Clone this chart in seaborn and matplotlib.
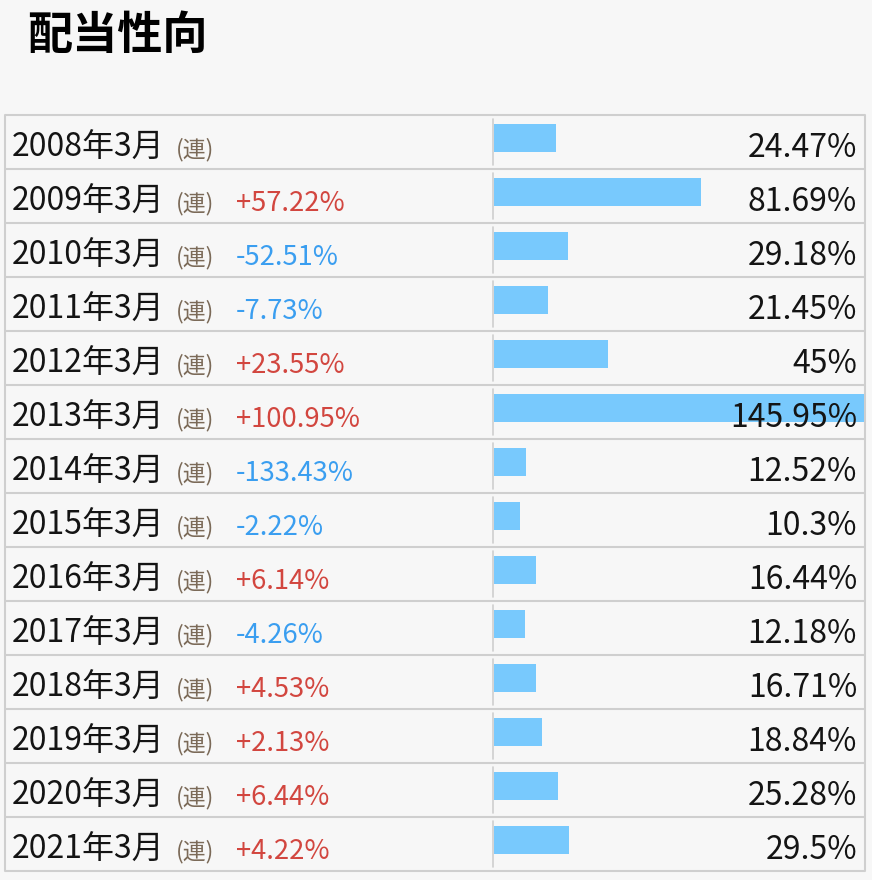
import matplotlib
matplotlib.use('Agg')
import seaborn as sns
import matplotlib.pyplot as plt
import numpy as np
import pandas as pd

# 配当性向データ
periods = ['2008年3月', '2009年3月', '2010年3月', '2011年3月', '2012年3月',
           '2013年3月', '2014年3月', '2015年3月', '2016年3月', '2017年3月',
           '2018年3月', '2019年3月', '2020年3月', '2021年3月']
payout = [24.47, 81.69, 29.18, 21.45, 45, 145.95, 12.52, 10.3,
          16.44, 12.18, 16.71, 18.84, 25.28, 29.5]
change = [None, 57.22, -52.51, -7.73, 23.55, 100.95, -133.43, -2.22,
          6.14, -4.26, 4.53, 2.13, 6.44, 4.22]
kind = '(連)'
title = '配当性向'

df = pd.DataFrame({'period': periods, 'payout': payout})

sns.set_style('white')
plt.rcParams['font.family'] = ['Noto Sans CJK JP', 'DejaVu Sans']

W, H = 872, 880
BG = '#f7f7f7'
LINE = '#cfcfcf'
BAR = '#78c9fd'
RED = '#d2463f'
BLUE = '#3a9ef0'
BROWN = '#7b6a58'
TXT = '#141414'

tab_l, tab_r, tab_t, row_h = 5, 865, 115, 54
n = len(periods)
tab_b = tab_t + row_h * n
div_x = 493

fig = plt.figure(figsize=(W / 100, H / 100), dpi=100, facecolor=BG)

# レイアウト用の軸(ピクセル座標)
ax_tab = fig.add_axes([0, 0, 1, 1])
ax_tab.set_xlim(0, W)
ax_tab.set_ylim(H, 0)
ax_tab.axis('off')
ax_tab.set_facecolor(BG)

# 棒グラフ用の軸
ax = fig.add_axes([div_x / W, 1 - tab_b / H, (tab_r - div_x) / W, (tab_b - tab_t) / H])
ax.patch.set_alpha(0)
sns.barplot(data=df, x='payout', y='period', orient='h', color=BAR,
            width=0.52, saturation=1, ax=ax)
for p in ax.patches:
    p.set_y(p.get_y() - 0.075)
    p.set_edgecolor('none')
px_per = (tab_r - div_x - 2) / max(payout)
pad = 1 / px_per
ax.set_xlim(-pad, max(payout) + pad)
ax.set_ylim(n - 0.5, -0.5)
ax.axis('off')

# 枠線
for i in range(n + 1):
    y = tab_t + row_h * i
    ax_tab.plot([tab_l, tab_r], [y, y], color=LINE, lw=1.5, solid_capstyle='butt')
ax_tab.plot([tab_l, tab_l], [tab_t, tab_b], color=LINE, lw=1.5)
ax_tab.plot([tab_r, tab_r], [tab_t, tab_b], color=LINE, lw=1.5)
for i in range(n):
    y0 = tab_t + row_h * i
    ax_tab.plot([div_x, div_x], [y0 + 4, y0 + row_h - 4], color=LINE, lw=1.2)

# タイトル
ax_tab.text(27, 36, title, fontsize=32.5, fontweight='bold', color='#000000',
            ha='left', va='center')

# 各行のテキスト
for i in range(n):
    base = tab_t + row_h * i + 42
    ax_tab.text(12, base, periods[i], fontsize=23, color=TXT, ha='left', va='baseline')
    ax_tab.text(176, base - 1, kind, fontsize=16.5, color=BROWN, ha='left', va='baseline')
    c = change[i]
    if c is not None:
        ax_tab.text(236, base, f'{c:+.2f}%', fontsize=19.7, color=RED if c > 0 else BLUE,
                    ha='left', va='baseline')
    ax.text(857, base, f'{payout[i]:g}%', fontsize=23, color=TXT, ha='right',
            va='baseline', transform=ax_tab.transData, clip_on=False, zorder=5)

fig.savefig('out.png', dpi=100, facecolor=BG)
